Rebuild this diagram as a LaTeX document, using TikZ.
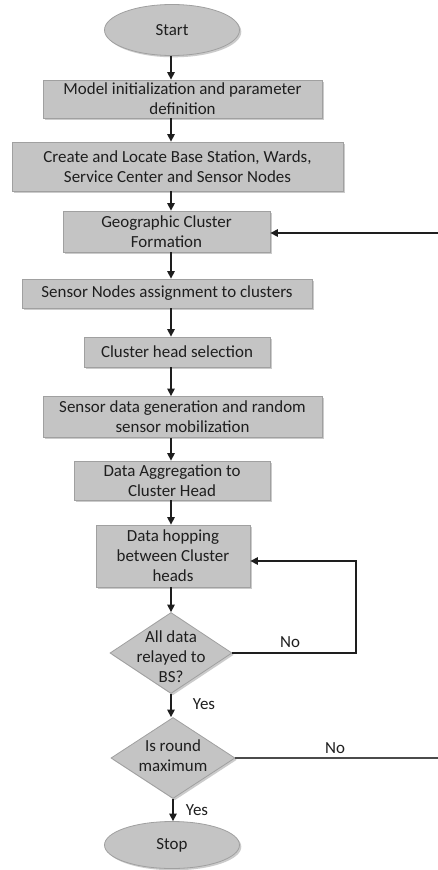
\documentclass[tikz,border=0pt]{standalone}
\usepackage{fontspec}
\setmainfont{Carlito}
\usetikzlibrary{shapes.geometric,arrows.meta,shadows}
\definecolor{boxfill}{RGB}{196,196,196}
\definecolor{boxline}{RGB}{160,160,160}
\definecolor{linecol}{RGB}{30,30,30}
\definecolor{txt}{RGB}{30,30,30}
\tikzset{
  shade/.style={drop shadow={shadow xshift=1.8bp,shadow yshift=-1.8bp,fill=black!45,opacity=0.45}},
  procbox/.style={rectangle,draw=boxline,fill=boxfill,line width=0.8bp,shade,align=center,
    inner sep=0pt,text=txt,font=\fontsize{17}{20}\selectfont},
  termin/.style={ellipse,draw=boxline,fill=boxfill,line width=0.8bp,shade,inner sep=0pt,
    text=txt,font=\fontsize{17}{20}\selectfont},
  decis/.style={diamond,draw=boxline,fill=boxfill,line width=0.8bp,shade,inner sep=0pt,
    aspect=1.5},
  dtext/.style={align=center,inner sep=0pt,text=txt,font=\fontsize{17}{20}\selectfont},
  conn/.style={draw=linecol,line width=1.3bp,-{Triangle[length=7.5bp,width=7.5bp]}},
  plain/.style={draw=linecol!80,line width=1.3bp},
  lbl/.style={text=txt,font=\fontsize{17}{20}\selectfont,inner sep=0pt}
}
\begin{document}
\begin{tikzpicture}[x=1bp,y=-1bp]
\useasboundingbox[fill=white] (0,0) rectangle (438,870);

\node[termin,minimum width=135bp,minimum height=51bp] (start) at (172,30) {Start};
\node[procbox,minimum width=279bp,minimum height=38bp] (b1) at (182.5,99)
  {Model initialization and parameter\\definition};
\node[procbox,minimum width=331bp,minimum height=49bp] (b2) at (177.5,166.5)
  {Create and Locate Base Station, Wards,\\Service Center and Sensor Nodes};
\node[procbox,minimum width=207bp,minimum height=41bp] (b3) at (166.5,231.5)
  {Geographic Cluster\\Formation};
\node[procbox,minimum width=290bp,minimum height=29bp] (b4) at (167,293.5)
  {Sensor Nodes assignment to clusters};
\node[procbox,minimum width=186bp,minimum height=30bp] (b5) at (177,352)
  {Cluster head selection};
\node[procbox,minimum width=279bp,minimum height=41bp] (b6) at (182.5,417)
  {Sensor data generation and random\\sensor mobilization};
\node[procbox,minimum width=196bp,minimum height=39bp] (b7) at (172,480.5)
  {Data Aggregation to\\Cluster Head};
\node[procbox,minimum width=154bp,minimum height=62bp] (b8) at (173,556)
  {Data hopping\\between Cluster\\heads};
\node[decis,minimum width=122bp,minimum height=81bp] (d1) at (171,653) {};
\node[dtext] (d1t) at (171,657) {All data\\relayed to\\BS?};
\node[decis,minimum width=124bp,minimum height=81bp] (d2) at (173,758) {};
\node[dtext] (d2t) at (173,756) {Is round\\maximum};
\node[termin,minimum width=135bp,minimum height=47bp] (stop) at (172,845) {Stop};

\coordinate (r1) at (438,233);
\coordinate (r2) at (438,758);
\coordinate (lp) at (356,653);
\coordinate (lq) at (356,561);

\draw[conn] (start.south -| 171,0) -- (b1.north -| 171,0);
\draw[conn] (b1.south -| 171,0) -- (b2.north -| 171,0);
\draw[conn] (b2.south -| 171,0) -- (b3.north -| 171,0);
\draw[conn] (b3.south -| 171,0) -- (b4.north -| 171,0);
\draw[conn] (b4.south -| 171,0) -- (b5.north -| 171,0);
\draw[conn] (b5.south -| 171,0) -- (b6.north -| 171,0);
\draw[conn] (b6.south -| 171,0) -- (b7.north -| 171,0);
\draw[conn] (b7.south -| 171,0) -- (b8.north -| 171,0);
\draw[conn] (b8.south -| d1.north) -- (d1.north);
\draw[conn] (d1.south) -- (d2.north -| d1.south);
\draw[conn] (d2.south) -- (stop.north -| d2.south);

\draw[conn] (d1.east) -- (lp) -- (lq) -- (b8.east |- lq);
\draw[plain] (d2.east) -- (r2);
\draw[conn] (r1) -- (b3.east |- r1);

\node[lbl] (no1) at (290,642) {No};
\node[lbl] (yes1) at (204,704) {Yes};
\node[lbl] (no2) at (335,748) {No};
\node[lbl] (yes2) at (197,810) {Yes};
\end{tikzpicture}
\end{document}
